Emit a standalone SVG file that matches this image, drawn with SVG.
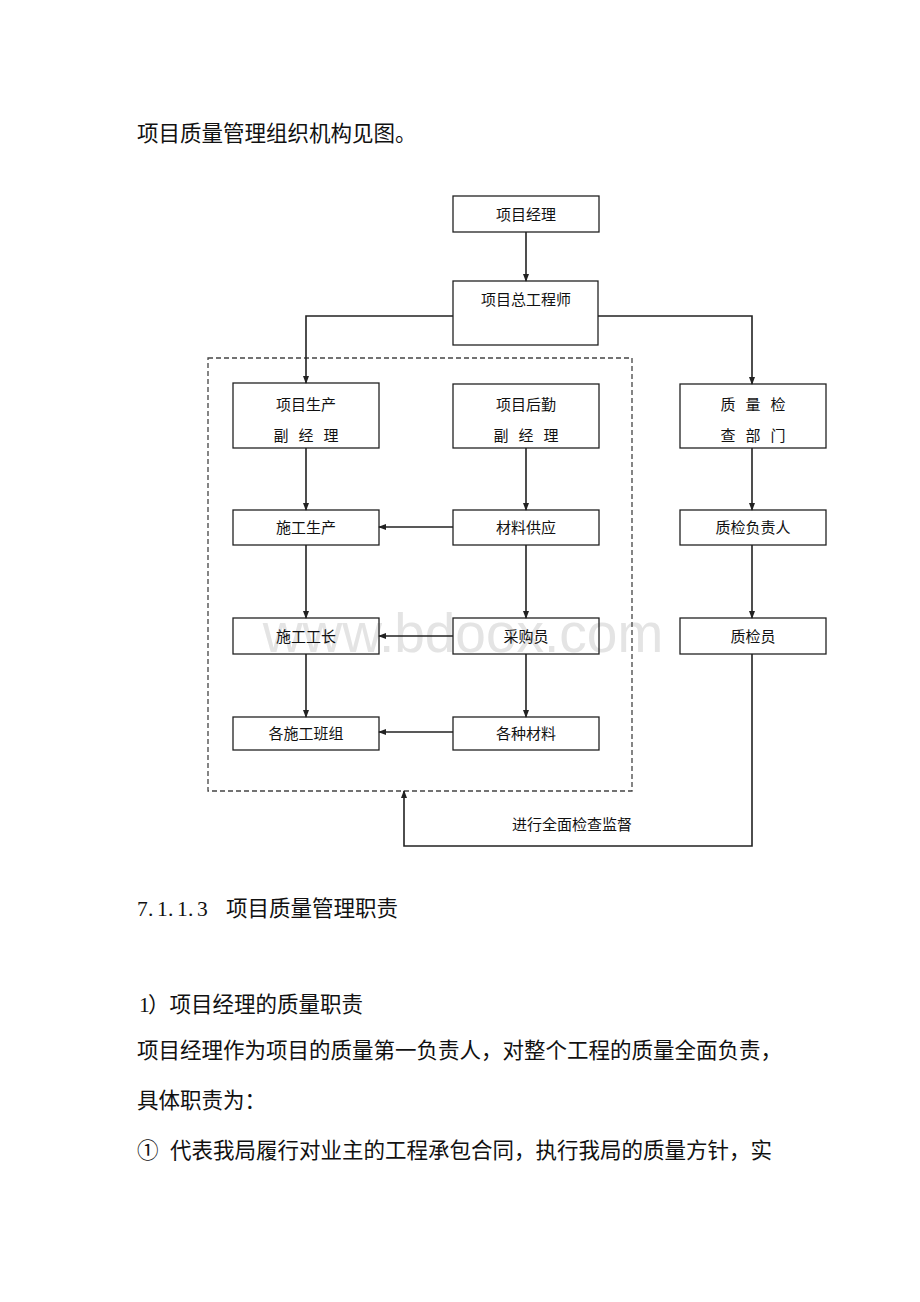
<svg xmlns="http://www.w3.org/2000/svg" width="920" height="1302" viewBox="0 0 920 1302">
<style>
.body{font-family:"Noto Sans CJK SC","Liberation Serif",serif;font-size:21.5px;fill:#111}
.num{font-family:"Liberation Serif",serif;font-size:21.5px;fill:#111}
.lbl{font-family:"Noto Sans CJK SC",sans-serif;font-size:15px;fill:#111;text-anchor:middle}
.sp{letter-spacing:10px}
.box{fill:none;stroke:#222;stroke-width:1.3}
.ln{fill:none;stroke:#222;stroke-width:1.6}
.dash{fill:none;stroke:#444;stroke-width:1.3;stroke-dasharray:5 3}
.wm{font-family:"Liberation Sans",Arial,sans-serif;font-size:55px;fill:#e4e4e4}
</style>
<defs>
<marker id="ah" markerWidth="8" markerHeight="8" refX="7" refY="4" orient="auto" markerUnits="userSpaceOnUse">
<path d="M0,1 L8,4 L0,7 Z" fill="#222"/>
</marker>
</defs>
<rect width="920" height="1302" fill="#fff"/>
<text class="wm" x="463" y="652" text-anchor="middle">www.bdoox.com</text>

<text class="body" x="137" y="141">项目质量管理组织机构见图。</text>

<g id="boundary"><rect class="dash" x="208" y="358" width="424" height="433"/></g>

<g id="n-pm"><rect class="box" x="453" y="196" width="146" height="36"/><text class="lbl" x="526" y="220">项目经理</text></g>
<g id="n-chief"><rect class="box" x="453" y="281" width="145" height="64"/><text class="lbl" x="526" y="305">项目总工程师</text></g>
<g id="n-prod"><rect class="box" x="233" y="383" width="146" height="65"/><text class="lbl" x="306" y="410">项目生产</text><text class="lbl sp" x="311" y="441">副经理</text></g>
<g id="n-log"><rect class="box" x="453" y="384" width="146" height="64"/><text class="lbl" x="526" y="410">项目后勤</text><text class="lbl sp" x="531" y="441">副经理</text></g>
<g id="n-qc"><rect class="box" x="680" y="384" width="146" height="64"/><text class="lbl sp" x="758" y="410">质量检</text><text class="lbl sp" x="758" y="441">查部门</text></g>
<g id="n-cons"><rect class="box" x="233" y="510" width="146" height="35"/><text class="lbl" x="306" y="533">施工生产</text></g>
<g id="n-mat"><rect class="box" x="453" y="510" width="146" height="35"/><text class="lbl" x="526" y="533">材料供应</text></g>
<g id="n-qclead"><rect class="box" x="680" y="510" width="146" height="35"/><text class="lbl" x="753" y="533">质检负责人</text></g>
<g id="n-foreman"><rect class="box" x="233" y="618" width="146" height="36"/><text class="lbl" x="306" y="642">施工工长</text></g>
<g id="n-buyer"><rect class="box" x="453" y="618" width="146" height="36"/><text class="lbl" x="526" y="642">采购员</text></g>
<g id="n-insp"><rect class="box" x="680" y="618" width="146" height="36"/><text class="lbl" x="753" y="642">质检员</text></g>
<g id="n-teams"><rect class="box" x="233" y="717" width="146" height="33"/><text class="lbl" x="306" y="739">各施工班组</text></g>
<g id="n-mats"><rect class="box" x="453" y="717" width="146" height="33"/><text class="lbl" x="526" y="739">各种材料</text></g>

<g id="connectors">
<path class="ln" d="M526,232 V281" marker-end="url(#ah)"/>
<path class="ln" d="M453,316 H306 V383" marker-end="url(#ah)"/>
<path class="ln" d="M598,316 H752 V384" marker-end="url(#ah)"/>
<path class="ln" d="M306,448 V510" marker-end="url(#ah)"/>
<path class="ln" d="M526,448 V510" marker-end="url(#ah)"/>
<path class="ln" d="M752,448 V510" marker-end="url(#ah)"/>
<path class="ln" d="M306,545 V618" marker-end="url(#ah)"/>
<path class="ln" d="M526,545 V618" marker-end="url(#ah)"/>
<path class="ln" d="M752,545 V618" marker-end="url(#ah)"/>
<path class="ln" d="M306,654 V717" marker-end="url(#ah)"/>
<path class="ln" d="M526,654 V717" marker-end="url(#ah)"/>
<path class="ln" d="M453,527 H379" marker-end="url(#ah)"/>
<path class="ln" d="M453,636 H379" marker-end="url(#ah)"/>
<path class="ln" d="M453,732 H379" marker-end="url(#ah)"/>
<path class="ln" d="M752,654 V846 H404 V791" marker-end="url(#ah)"/>
<text class="lbl" x="572" y="830">进行全面检查监督</text>
</g>

<text class="num" x="137 148 157 168 177 188 197" y="916">7.1.1.3</text>
<text class="body" x="226" y="916">项目质量管理职责</text>
<text class="num" x="139" y="1012">1</text>
<text class="body" x="148" y="1012">）项目经理的质量职责</text>
<text class="body" x="137" y="1058">项目经理作为项目的质量第一负责人，对整个工程的质量全面负责，</text>
<text class="body" x="137" y="1108">具体职责为：</text>
<text class="body" x="137" y="1158">①</text>
<text class="body" x="170" y="1158">代表我局履行对业主的工程承包合同，执行我局的质量方针，实</text>
</svg>
